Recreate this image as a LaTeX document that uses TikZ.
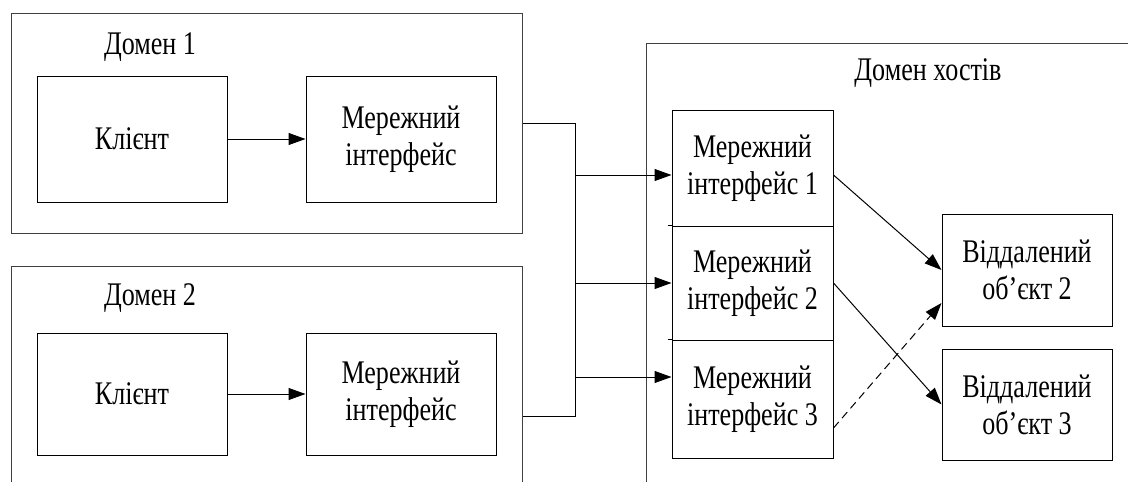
\documentclass[tikz,border=0pt]{standalone}
\usepackage{fontspec}
\setmainfont{Liberation Serif}[FakeStretch=0.79]
\usetikzlibrary{arrows.meta}

\tikzset{
  blk/.style={draw=black, line width=1pt, inner sep=0pt, align=center},
  frame/.style={draw=black!75, line width=1pt, inner sep=0pt},
  arr/.style={-{Triangle[length=17pt,width=12pt]}, line width=1pt},
}

\begin{document}
\begin{tikzpicture}[x=1pt,y=-1pt,font=\fontsize{33}{37}\selectfont]
\useasboundingbox (0,0) rectangle (1128,482);
\clip (0,0) rectangle (1128,482);
\node [frame, minimum width=511, minimum height=220] (dom1) at (266.5,123) {};
\node [frame, minimum width=511, minimum height=300] (dom2) at (266.5,416) {};
\node [frame, minimum width=600, minimum height=500] (hosts) at (946,293) {};
\node (lab1) at (150,47) {Домен 1};
\node (lab2) at (150,298) {Домен 2};
\node (labh) at (928,73) {Домен хостів};
\node [blk, minimum width=190, minimum height=126] (cl1) at (132,139) {Клієнт};
\node [blk, minimum width=190, minimum height=126] (ni1) at (401,139) {Мережний\\інтерфейс};
\node [blk, minimum width=190, minimum height=122] (cl2) at (132,394) {Клієнт};
\node [blk, minimum width=190, minimum height=122] (ni2) at (401,394) {Мережний\\інтерфейс};
\node [blk, minimum width=161, minimum height=116] (if1) at (752.5,168) {Мережний\\інтерфейс 1};
\node [blk, minimum width=161, minimum height=114] (if2) at (752.5,283) {Мережний\\інтерфейс 2};
\node [blk, minimum width=161, minimum height=118] (if3) at (752.5,399) {Мережний\\інтерфейс 3};
\node [blk, minimum width=170, minimum height=112] (obj2) at (1027,270) {Віддалений\\об’єкт 2};
\node [blk, minimum width=170, minimum height=111] (obj3) at (1027,404.5) {Віддалений\\об’єкт 3};
\draw [line width=1pt] ([xshift=-4pt]if2.north west) -- (if2.north west);
\draw [line width=1pt] ([xshift=-4pt]if3.north west) -- (if3.north west);
\draw [arr] (cl1) -- (ni1);
\draw [arr] (cl2) -- (ni2);
\coordinate (bus) at (575,0);
\coordinate (in1) at ([yshift=-7pt]if1.west);
\coordinate (in3) at ([yshift=22pt]if3.west);
\draw [line width=1pt] (dom1.east) -| (bus |- dom2.east) -- (dom2.east);
\draw [arr] (in1 -| bus) -- (in1);
\draw [arr] (if2.west -| bus) -- (if2.west);
\draw [arr] (in3 -| bus) -- (in3);
\draw [arr] ([yshift=-7pt]if1.east) -- (obj2.west);
\draw [arr] (if2.east) -- (obj3.west);
\draw [arr, dash pattern=on 8pt off 5pt] ([yshift=-29pt]if3.east) -- ([yshift=-33pt]obj2.west);
\end{tikzpicture}
\end{document}
